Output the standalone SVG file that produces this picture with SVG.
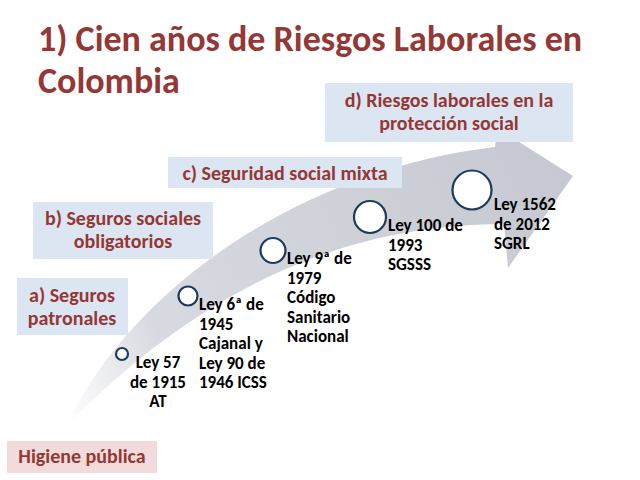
<svg xmlns="http://www.w3.org/2000/svg" width="640" height="480" viewBox="0 0 640 480">
<defs>
<linearGradient id="arrowGrad" gradientUnits="userSpaceOnUse" x1="67" y1="425" x2="560" y2="180">
<stop offset="0" stop-color="#ffffff"/>
<stop offset="0.22" stop-color="#d8dae1"/>
<stop offset="1" stop-color="#c6c9d1"/>
</linearGradient>
<style>
.title{font-family:Carlito,Lato,"Liberation Sans",sans-serif;font-weight:bold;font-size:36px;fill:#953735}
.lbl{font-family:Carlito,Lato,"Liberation Sans",sans-serif;font-weight:bold;font-size:20px;fill:#953735}
.leaf{font-family:Carlito,Lato,"Liberation Sans",sans-serif;font-weight:bold;font-size:17px;fill:#000000}
.box{fill:#dce6f2}
.pbox{fill:#f2dcdb}
.dot{fill:#ffffff;stroke:#1f3b5c;stroke-width:2.2}
</style>
</defs>
<rect width="640" height="480" fill="#ffffff"/>
<g id="title">
<text class="title" x="38" y="51">1) Cien años de Riesgos Laborales en</text>
<text class="title" x="38" y="93">Colombia</text>
</g>
<g id="connectors">
<path d="M67,425 C130,290 300,170 495,147 L497,128 L573,176 L508,268 L504,224 C380,225 230,260 67,425 Z" fill="url(#arrowGrad)"/>
</g>
<g id="box-d">
<rect class="box" x="325" y="83" width="248" height="59"/>
<text class="lbl" x="449" y="107" text-anchor="middle">d) Riesgos laborales en la</text>
<text class="lbl" x="449" y="130" text-anchor="middle">protección social</text>
</g>
<g id="box-c">
<rect class="box" x="168" y="157" width="234" height="31"/>
<text class="lbl" x="285" y="180" text-anchor="middle">c) Seguridad social mixta</text>
</g>
<g id="box-b">
<rect class="box" x="33" y="202" width="180" height="57"/>
<text class="lbl" x="123" y="225" text-anchor="middle">b) Seguros sociales</text>
<text class="lbl" x="123" y="248" text-anchor="middle">obligatorios</text>
</g>
<g id="box-a">
<rect class="box" x="17" y="278" width="111" height="57"/>
<text class="lbl" x="72" y="302" text-anchor="middle">a) Seguros</text>
<text class="lbl" x="72" y="325" text-anchor="middle">patronales</text>
</g>
<g id="box-higiene">
<rect class="pbox" x="7" y="441" width="150" height="32"/>
<text class="lbl" x="82" y="463" text-anchor="middle">Higiene pública</text>
</g>
<g id="node-1915">
<circle class="dot" cx="122" cy="354" r="6"/>
<text class="leaf" text-anchor="middle"><tspan x="158" y="368">Ley 57</tspan><tspan x="158" y="387.5">de 1915</tspan><tspan x="158" y="407">AT</tspan></text>
</g>
<g id="node-1945">
<circle class="dot" cx="188" cy="296" r="9.5"/>
<text class="leaf"><tspan x="199" y="310">Ley 6ª de</tspan><tspan x="199" y="329.5">1945</tspan><tspan x="199" y="349">Cajanal y</tspan><tspan x="199" y="368.5">Ley 90 de</tspan><tspan x="199" y="388">1946 ICSS</tspan></text>
</g>
<g id="node-1979">
<circle class="dot" cx="273" cy="250.5" r="12.5"/>
<text class="leaf"><tspan x="287" y="264">Ley 9ª de</tspan><tspan x="287" y="283.5">1979</tspan><tspan x="287" y="303">Código</tspan><tspan x="287" y="322.5">Sanitario</tspan><tspan x="287" y="342">Nacional</tspan></text>
</g>
<g id="node-1993">
<circle class="dot" cx="370" cy="217" r="16"/>
<text class="leaf"><tspan x="388" y="231">Ley 100 de</tspan><tspan x="388" y="250.5">1993</tspan><tspan x="388" y="270">SGSSS</tspan></text>
</g>
<g id="node-2012">
<circle class="dot" cx="472" cy="190" r="19.5"/>
<text class="leaf"><tspan x="494" y="210">Ley 1562</tspan><tspan x="494" y="229.5">de 2012</tspan><tspan x="494" y="249">SGRL</tspan></text>
</g>
</svg>
